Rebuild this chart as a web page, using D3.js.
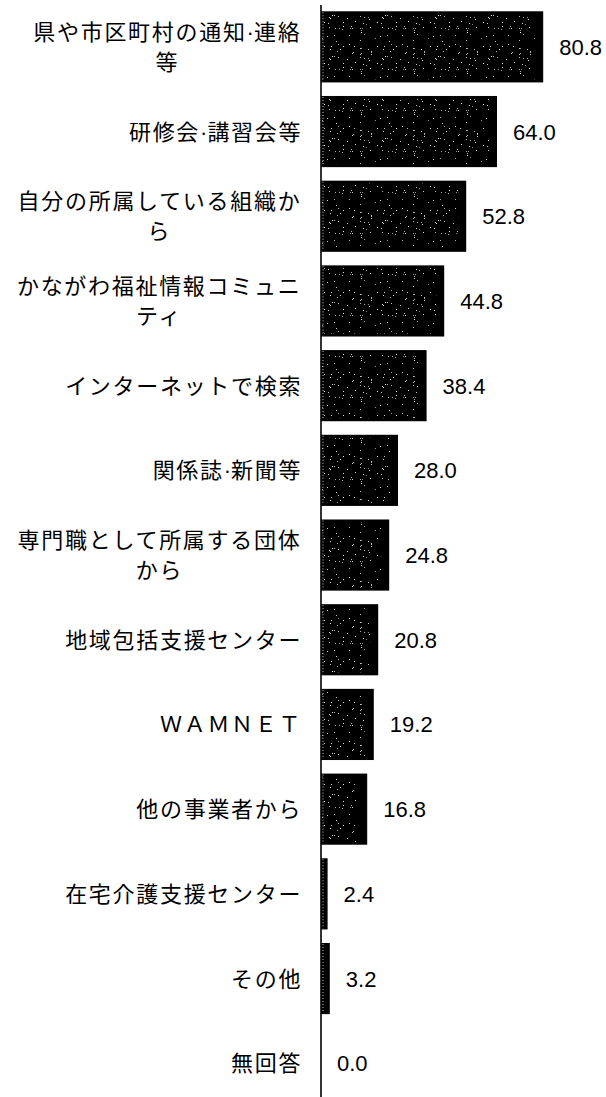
<!DOCTYPE html>
<html lang="ja">
<head>
<meta charset="utf-8">
<script src="https://cdn.jsdelivr.net/npm/d3@7"></script>
<style>
  html, body { margin: 0; padding: 0; background: #fff; }
  svg { display: block; }
  .cat { font-family: "Noto Sans CJK JP", "Noto Sans", sans-serif; font-size: 22px; letter-spacing: 1.7px; fill: #000; }
  .cat .dot { font-family: "Liberation Sans", Arial, sans-serif; letter-spacing: 0; }
  .val { font-family: "Liberation Sans", Arial, sans-serif; font-size: 22px; fill: #000; }
</style>
</head>
<body>
<svg id="chart" width="606" height="1097"></svg>
<script>
// 情報の入手先（%）
const categories = [
  "県や市区町村の通知·連絡\n等",
  "研修会·講習会等",
  "自分の所属している組織か\nら",
  "かながわ福祉情報コミュニ\nティ",
  "インターネットで検索",
  "関係誌·新聞等",
  "専門職として所属する団体\nから",
  "地域包括支援センター",
  "ＷＡＭＮＥＴ",
  "他の事業者から",
  "在宅介護支援センター",
  "その他",
  "無回答"
];
const values = [80.8, 64.0, 52.8, 44.8, 38.4, 28.0, 24.8, 20.8, 19.2, 16.8, 2.4, 3.2, 0.0];

const W = 606, H = 1097;
const axisX = 321;
const svg = d3.select("#chart");

const x = d3.scaleLinear().domain([0, 100]).range([axisX, axisX + 275]);
const y = d3.scaleBand()
  .domain(d3.range(categories.length))
  .range([4.5, 4.5 + 13 * 84.7])
  .paddingInner(0.16)
  .paddingOuter(0.08);

// speckled fill: a tile of fine light dots laid over solid black
const defs = svg.append("defs");
const tw = 53, th = 41;
const pat = defs.append("pattern")
  .attr("id", "speckle")
  .attr("patternUnits", "userSpaceOnUse")
  .attr("width", tw).attr("height", th);
let s = 12345;
const next = () => { s = (s * 1103515245 + 12345) % 2147483648; return s / 2147483648; };
for (let i = 0; i < 55; i++) {
  pat.append("rect")
    .attr("x", Math.floor(next() * tw))
    .attr("y", Math.floor(next() * th))
    .attr("width", 1).attr("height", 1)
    .attr("fill", "#fff")
    .attr("opacity", 0.55 + 0.4 * next());
}

const rows = svg.append("g").selectAll("g.row")
  .data(values.map((v, i) => ({ v, i, label: categories[i] })))
  .join("g").attr("class", "row");

// bars
rows.append("rect")
  .attr("x", axisX)
  .attr("y", d => y(d.i))
  .attr("width", d => x(d.v) - axisX)
  .attr("height", y.bandwidth())
  .attr("fill", "#000");

rows.filter(d => x(d.v) - axisX > 14).append("rect")
  .attr("x", axisX + 1)
  .attr("y", d => y(d.i) + 3)
  .attr("width", d => x(d.v) - axisX - 9)
  .attr("height", y.bandwidth() - 6)
  .attr("fill", "url(#speckle)");

// dotted light edge along the left side of each bar
rows.filter(d => d.v > 0).append("line")
  .attr("x1", axisX + 2).attr("x2", axisX + 2)
  .attr("y1", d => y(d.i) + 1)
  .attr("y2", d => y(d.i) + y.bandwidth() - 1)
  .attr("stroke", "#fff")
  .attr("stroke-width", 1)
  .attr("stroke-dasharray", "1,2")
  .attr("opacity", 0.8);

// value labels
rows.append("text")
  .attr("class", "val")
  .attr("x", d => x(d.v) + 16)
  .attr("y", d => y(d.i) + y.bandwidth() / 2 + 8)
  .text(d => d3.format(".1f")(d.v));

// category labels (multi-line labels are centred as a block, right-aligned to the axis)
const labelRight = 300.5;
const lineGap = 30;
rows.each(function (d) {
  const g = d3.select(this);
  const lines = d.label.split("\n");
  const cy = y(d.i) + y.bandwidth() / 2;
  const texts = lines.map((ln, k) => {
    const t = g.append("text").attr("class", "cat")
      .attr("y", cy + (k - (lines.length - 1) / 2) * lineGap + 8);
    ln.split("·").forEach((p, j) => {
      if (j > 0) t.append("tspan").attr("class", "dot").text("·");
      t.append("tspan").text(p);
    });
    return t;
  });
  const widths = texts.map(t => t.node().getComputedTextLength());
  const maxW = d3.max(widths);
  const centre = labelRight - maxW / 2;
  texts.forEach(t => {
    if (lines.length === 1) {
      t.attr("text-anchor", "end").attr("x", labelRight + 1.7);
    } else {
      t.attr("text-anchor", "middle").attr("x", centre + 0.85);
    }
  });
});

// vertical baseline axis
svg.append("line")
  .attr("x1", axisX).attr("x2", axisX)
  .attr("y1", 5).attr("y2", H)
  .attr("stroke", "#000")
  .attr("stroke-width", 1.6);
</script>
</body>
</html>
